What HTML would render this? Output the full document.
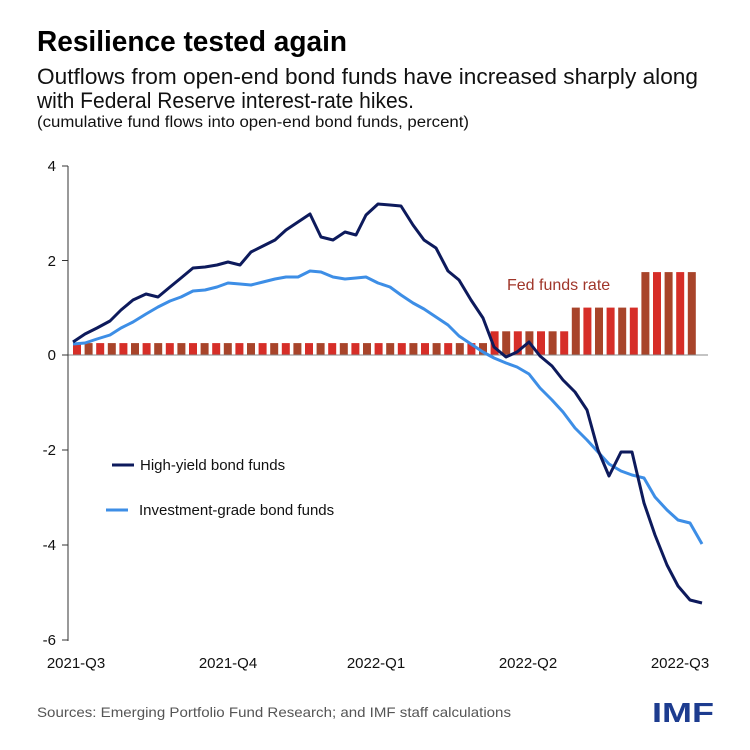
<!DOCTYPE html>
<html><head><meta charset="utf-8"><style>
html,body{margin:0;padding:0;background:#fff;}
svg{display:block;font-family:"Liberation Sans",sans-serif;}
</style></head><body>
<svg id="s" width="750" height="750" viewBox="0 0 750 750" xmlns="http://www.w3.org/2000/svg">
<rect width="750" height="750" fill="#fff"/>
<text x="37" y="51" font-size="29" font-weight="bold" fill="#000" textLength="310" lengthAdjust="spacingAndGlyphs">Resilience tested again</text>
<text x="37" y="84" font-size="22" fill="#111" textLength="661" lengthAdjust="spacingAndGlyphs">Outflows from open-end bond funds have increased sharply along</text>
<text x="37" y="108" font-size="22" fill="#111" textLength="377" lengthAdjust="spacingAndGlyphs">with Federal Reserve interest-rate hikes.</text>
<text x="37" y="127" font-size="15.5" fill="#111" textLength="432" lengthAdjust="spacingAndGlyphs">(cumulative fund flows into open-end bond funds, percent)</text>

<g id="bars"></g>
<line x1="68" y1="355" x2="708" y2="355" stroke="#888" stroke-width="1"/>
<line x1="68" y1="166" x2="68" y2="641" stroke="#333" stroke-width="1"/>
<g stroke="#333" stroke-width="1">
<line x1="62" y1="166" x2="68" y2="166"/><line x1="62" y1="260.5" x2="68" y2="260.5"/><line x1="62" y1="355" x2="68" y2="355"/><line x1="62" y1="450" x2="68" y2="450"/><line x1="62" y1="545" x2="68" y2="545"/><line x1="62" y1="640" x2="68" y2="640"/>
</g>
<g font-size="15" fill="#111" text-anchor="end">
<text x="56" y="171">4</text><text x="56" y="266">2</text><text x="56" y="360">0</text><text x="56" y="455">-2</text><text x="56" y="550">-4</text><text x="56" y="645">-6</text>
</g>
<g font-size="15" fill="#111" text-anchor="middle">
<text x="76" y="668">2021-Q3</text><text x="228" y="668">2021-Q4</text><text x="376" y="668">2022-Q1</text><text x="528" y="668">2022-Q2</text><text x="680" y="668">2022-Q3</text>
</g>

<polyline fill="none" stroke="#3d8ee6" stroke-width="3" stroke-linejoin="round" points="73,344 85,343 97,339 110,335 121,328 133,322 146,314 158,307 170,301 181,297 193,291 205,290 217,287 228,283 240,284 251,285 263,282 275,279 286,277 298,277 310,271 321,272 333,277 345,279 356,278 366,277 378,283 390,287 401,295 413,303 424,309 436,317 448,325 459,336 471,344 483,352 494,358 506,363 517,367 529,374 540,388 552,400 563,412 575,428 587,440 598,452 609,464 621,471 632,475 644,478 655,497 667,510 678,520 690,523 702,544"/>
<polyline fill="none" stroke="#0d1a5c" stroke-width="3" stroke-linejoin="round" points="73,342 85,334 97,328 110,321 121,310 133,300 146,294 158,297 170,287 181,278 193,268 205,267 217,265 228,262 240,265 251,252 263,246 275,240 286,230 298,222 310,214 321,237 333,240 345,232 356,235 366,215 378,204 390,205 401,206 413,225 424,240 436,248 448,271 459,280 471,300 483,318 494,347 506,357 517,352 529,342 540,356 552,366 563,380 575,392 587,410 598,450 609,476 621,452 632,452 644,503 655,535 667,565 678,586 690,600 702,603"/>

<text x="507" y="290" font-size="16" fill="#a0362a">Fed funds rate</text>
<line x1="112" y1="465" x2="134" y2="465" stroke="#0d1a5c" stroke-width="3"/>
<text x="140" y="470" font-size="15" fill="#111">High-yield bond funds</text>
<line x1="106" y1="510" x2="128" y2="510" stroke="#3d8ee6" stroke-width="3"/>
<text x="139" y="515" font-size="15" fill="#111">Investment-grade bond funds</text>

<text x="37" y="717" font-size="14" fill="#555" textLength="474" lengthAdjust="spacingAndGlyphs">Sources: Emerging Portfolio Fund Research; and IMF staff calculations</text>
<text x="652" y="722" font-size="28" font-weight="bold" fill="#1d3c8f" textLength="62" lengthAdjust="spacingAndGlyphs">IMF</text>
</svg>
<script>
var g=document.getElementById('bars'),h='';
for(var i=0;i<54;i++){var v=i<36?0.25:i<43?0.5:i<49?1.0:1.75;var x=73+i*11.6;var hh=v*47.4;
h+='<rect x="'+x.toFixed(1)+'" y="'+(355-hh).toFixed(1)+'" width="8" height="'+hh.toFixed(1)+'" fill="'+(i%2?'#a8442a':'#d62e28')+'"/>';}
g.innerHTML=h;
</script>
</body></html>
